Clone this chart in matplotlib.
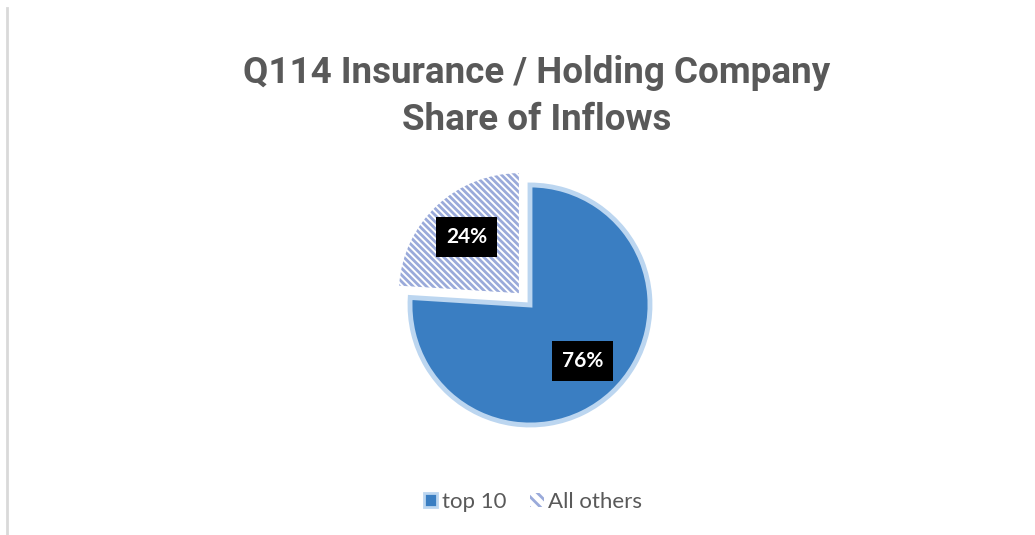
import numpy as np
import matplotlib
matplotlib.use("Agg")
import matplotlib.pyplot as plt
import matplotlib.patches as patches
from matplotlib.lines import Line2D

# share of inflows, percent
labels = ["top 10", "All others"]
shares = [76, 24]

title_lines = ["Q114 Insurance / Holding Company", "Share of Inflows"]

blue = "#3A7EC2"
glow = "#BCD6F0"
hatch_col = "#9AAADA"

W, H = 1035, 535
R = 120          # pie radius, px
cx, cy = 530, H - 305

plt.rcParams["hatch.linewidth"] = 2.0
plt.rcParams["hatch.color"] = hatch_col

fig = plt.figure(figsize=(W / 100, H / 100), dpi=100)
fig.patch.set_facecolor("white")

ax = fig.add_axes([0, 0, 1, 1])

# explode is given in data units by matplotlib, so scale by the radius
wedges, texts, autotexts = ax.pie(
    shares, center=(cx, cy), radius=R, startangle=90,
    counterclock=False, explode=[0, 0.135 * R], autopct="%d%%", pctdistance=0.64,
    colors=[blue, "white"], frame=True,
    textprops=dict(color="white", fontsize=15, fontweight="bold", family=["Lato", "DejaVu Sans"]))
ax.set_xlim(0, W)
ax.set_ylim(0, H)
ax.set_aspect("equal")
ax.axis("off")

wedges[0].set_edgecolor(glow)
wedges[0].set_linewidth(3.5)
wedges[1].set_hatch("\\\\\\\\\\")
wedges[1].set_edgecolor(hatch_col)
wedges[1].set_linewidth(0)

for t in autotexts:
    t.set_bbox(dict(facecolor="black", edgecolor="none", pad=7))

tfont = ["Liberation Sans Narrow", "Roboto", "DejaVu Sans"]
fig.text(537 / W, 1 - 83 / H, title_lines[0], ha="center", va="baseline", fontsize=26.5,
         fontweight="bold", color="#595959", family=tfont)
fig.text(537 / W, 1 - 130 / H, title_lines[1], ha="center", va="baseline", fontsize=26.5,
         fontweight="bold", color="#595959", family=tfont)

# thin frame line down the left side
fig.add_artist(Line2D([7 / W, 7 / W], [0, 1 - 8 / H], transform=fig.transFigure,
                      color="#D9D9D9", lw=2))

handles = [patches.Patch(facecolor=blue, edgecolor=glow, lw=2),
           patches.Patch(facecolor="white", edgecolor=hatch_col, hatch="\\\\\\", lw=0)]
leg = fig.legend(handles, labels, loc="center", bbox_to_anchor=(533 / W, 1 - 502 / H), ncol=2,
                 frameon=False, handlelength=0.6, handleheight=0.6,
                 handletextpad=0.2, columnspacing=1.1,
                 prop=dict(family=["Lato", "DejaVu Sans"], size=16))
for t in leg.get_texts():
    t.set_color("#595959")

fig.savefig("out.png", dpi=100, facecolor="white")
